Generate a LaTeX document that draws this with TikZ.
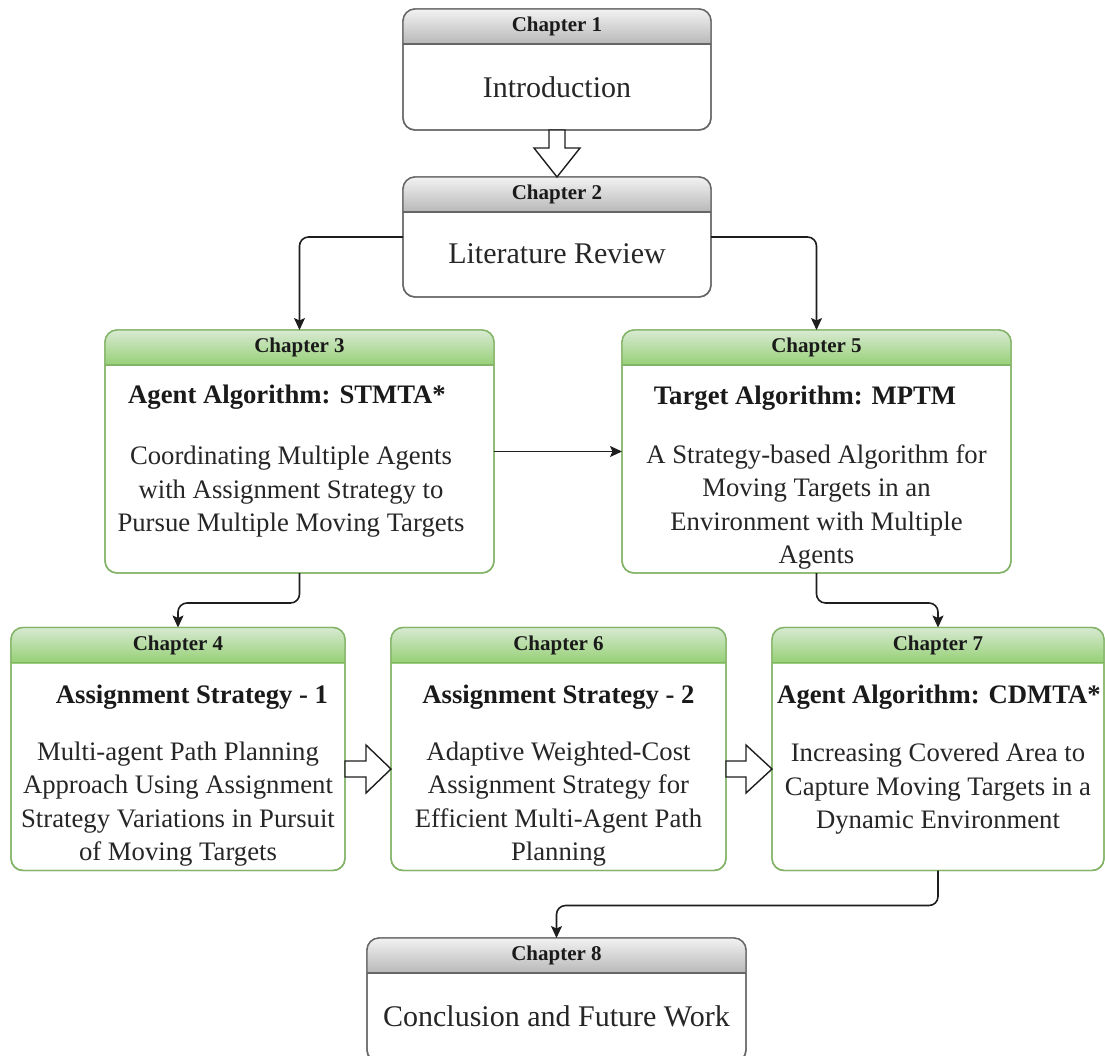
\documentclass[tikz,border=0pt]{standalone}
\usepackage{fontspec}
\setmainfont{Liberation Serif}
\usetikzlibrary{arrows.meta,calc}

\definecolor{grayline}{HTML}{666666}
\definecolor{graytop}{HTML}{F2F2F2}
\definecolor{graybot}{HTML}{B8B8B8}
\definecolor{greenline}{HTML}{82B366}
\definecolor{greentop}{HTML}{D8EAD2}
\definecolor{greenbot}{HTML}{97D077}
\definecolor{inkcol}{HTML}{1A1A1A}
\definecolor{bodycol}{HTML}{262626}
\definecolor{wirecol}{HTML}{1E1E1E}

\tikzset{
  chapter/.style={draw, line width=1.4pt, rounded corners=12pt, fill=white,
    inner sep=0pt, outer sep=0pt, minimum height=243pt},
  graychap/.style={chapter, draw=grayline},
  greenchap/.style={chapter, draw=greenline},
  headtxt/.style={font=\fontsize{21}{25}\selectfont\bfseries, text=inkcol, inner sep=0pt},
  bigtxt/.style={font=\fontsize{30}{36}\selectfont, text=bodycol, inner sep=0pt},
  boldtxt/.style={font=\fontsize{26.7}{33.4}\selectfont\bfseries, text=inkcol, inner sep=0pt},
  bodytxt/.style={font=\fontsize{26.7}{33.4}\selectfont, text=bodycol, align=center, inner sep=0pt},
  wire/.style={draw=wirecol, line width=1.6pt, rounded corners=9pt,
    -{Stealth[length=12pt, width=11pt, inset=2.5pt]}},
  blockarrow/.style={draw=wirecol, fill=white, line width=1.4pt, line join=miter},
}

% 35pt header band of a chapter box: vertical gradient (top colour to bottom
% colour) made of thin strips, clipped to the rounded box, then the divider
% and the outline drawn again on top.
% #1 node, #2 top colour, #3 bottom colour, #4 line colour
\newcommand\chapterband[4]{%
  \begin{scope}
    \clip[rounded corners=12pt] (#1.north west) rectangle (#1.south east);
    \foreach \i in {0,...,35} {
      \pgfmathsetmacro\mixpct{100*\i/35}
      \fill[#3!\mixpct!#2] ($(#1.north west)+(0,\i-0.1)$) rectangle ($(#1.north east)+(0,\i+1.1)$);
    }
  \end{scope}
  \draw[#4, line width=1.4pt] ($(#1.north west)+(0,35)$) -- ($(#1.north east)+(0,35)$);
  \draw[#4, line width=1.4pt, rounded corners=12pt] (#1.north west) rectangle (#1.south east);
}

\begin{document}
\begin{tikzpicture}[x=1pt, y=-1pt]
\useasboundingbox (0,0) rectangle (1105,1055);
\clip (0,0) rectangle (1105,1055);
\fill[white] (0,0) rectangle (1105,1055);

% chapter boxes
\node[graychap, minimum width=308pt, minimum height=121pt] (c1) at (557,69.5) {};
\node[graychap, minimum width=308pt, minimum height=120pt] (c2) at (557,237) {};
\node[greenchap, minimum width=389pt] (c3) at (299.5,451.5) {};
\node[greenchap, minimum width=389pt] (c5) at (816.5,451.5) {};
\node[greenchap, minimum width=334pt] (c4) at (178,749) {};
\node[greenchap, minimum width=335pt] (c6) at (558.5,749) {};
\node[greenchap, minimum width=332pt] (c7) at (938,749) {};
\node[graychap, minimum width=379pt, minimum height=124pt] (c8) at (556.5,1000) {};

\chapterband{c1}{graytop}{graybot}{grayline}
\chapterband{c2}{graytop}{graybot}{grayline}
\chapterband{c3}{greentop}{greenbot}{greenline}
\chapterband{c5}{greentop}{greenbot}{greenline}
\chapterband{c4}{greentop}{greenbot}{greenline}
\chapterband{c6}{greentop}{greenbot}{greenline}
\chapterband{c7}{greentop}{greenbot}{greenline}
\chapterband{c8}{graytop}{graybot}{grayline}

% header captions
\node[headtxt] (h1) at (557,26.5) {Chapter 1};
\node[headtxt] (h2) at (557,194.5) {Chapter 2};
\node[headtxt] (h3) at (299.5,347.5) {Chapter 3};
\node[headtxt] (h5) at (816.5,347.5) {Chapter 5};
\node[headtxt] (h4) at (178,645.5) {Chapter 4};
\node[headtxt] (h6) at (558.5,645.5) {Chapter 6};
\node[headtxt] (h7) at (938,645.5) {Chapter 7};
\node[headtxt] (h8) at (556.5,955.5) {Chapter 8};

% box contents
\node[bigtxt] (t1) at (557,87) {Introduction};
\node[bigtxt] (t2) at (557,254) {Literature Review};
\node[bigtxt] (t8) at (556.5,1016) {Conclusion and Future Work};

\node[boldtxt] (b3) at (287,397) {Agent Algorithm: STMTA*};
\node[bodytxt] (d3) at (291,492) {Coordinating Multiple Agents\\with Assignment Strategy to\\Pursue Multiple Moving Targets};

\node[boldtxt] (b5) at (805,398) {Target Algorithm: MPTM};
\node[bodytxt] (d5) at (816.5,507) {A Strategy-based Algorithm for\\Moving Targets in an\\Environment with Multiple\\Agents};

\node[boldtxt] (b4) at (192,697) {Assignment Strategy - 1};
\node[bodytxt] (d4) at (178,804) {Multi-agent Path Planning\\Approach Using Assignment\\Strategy Variations in Pursuit\\of Moving Targets};

\node[boldtxt] (b6) at (558.5,697) {Assignment Strategy - 2};
\node[bodytxt] (d6) at (558.5,804) {Adaptive Weighted-Cost\\Assignment Strategy for\\Efficient Multi-Agent Path\\Planning};

\node[boldtxt] (b7) at (939,697) {Agent Algorithm: CDMTA*};
\node[bodytxt] (d7) at (938,789) {Increasing Covered Area to\\Capture Moving Targets in a\\Dynamic Environment};

% thin connectors
\draw[wire] (c2.west) -| (c3.north);
\draw[wire] (c2.east) -| (c5.north);
\draw[wire] (c3.east) -- (c5.west);
\draw[wire] (c3.south) -- ++(0,30) -| (c4.north);
\draw[wire] (c5.south) -- ++(0,30) -| (c7.north);
\draw[wire] (c7.south) -- ++(0,35) -| (c8.north);

% hollow block arrows
\draw[blockarrow] ($(c1.south)+(-8,0)$) -- ($(c2.north)+(-8,-29)$)
  -- ($(c2.north)+(-23,-29)$) -- (c2.north) -- ($(c2.north)+(23,-29)$)
  -- ($(c2.north)+(8,-29)$) -- ($(c1.south)+(8,0)$) -- cycle;
\draw[blockarrow] ($(c4.east)+(0,12)$) -- ($(c6.west)+(-25,12)$)
  -- ($(c6.west)+(-25,-4)$) -- ($(c6.west)+(0,20)$) -- ($(c6.west)+(-25,44)$)
  -- ($(c6.west)+(-25,28)$) -- ($(c4.east)+(0,28)$) -- cycle;
\draw[blockarrow] ($(c6.east)+(0,12)$) -- ($(c7.west)+(-26,12)$)
  -- ($(c7.west)+(-26,-4)$) -- ($(c7.west)+(0,20)$) -- ($(c7.west)+(-26,44)$)
  -- ($(c7.west)+(-26,28)$) -- ($(c6.east)+(0,28)$) -- cycle;
\end{tikzpicture}
\end{document}
